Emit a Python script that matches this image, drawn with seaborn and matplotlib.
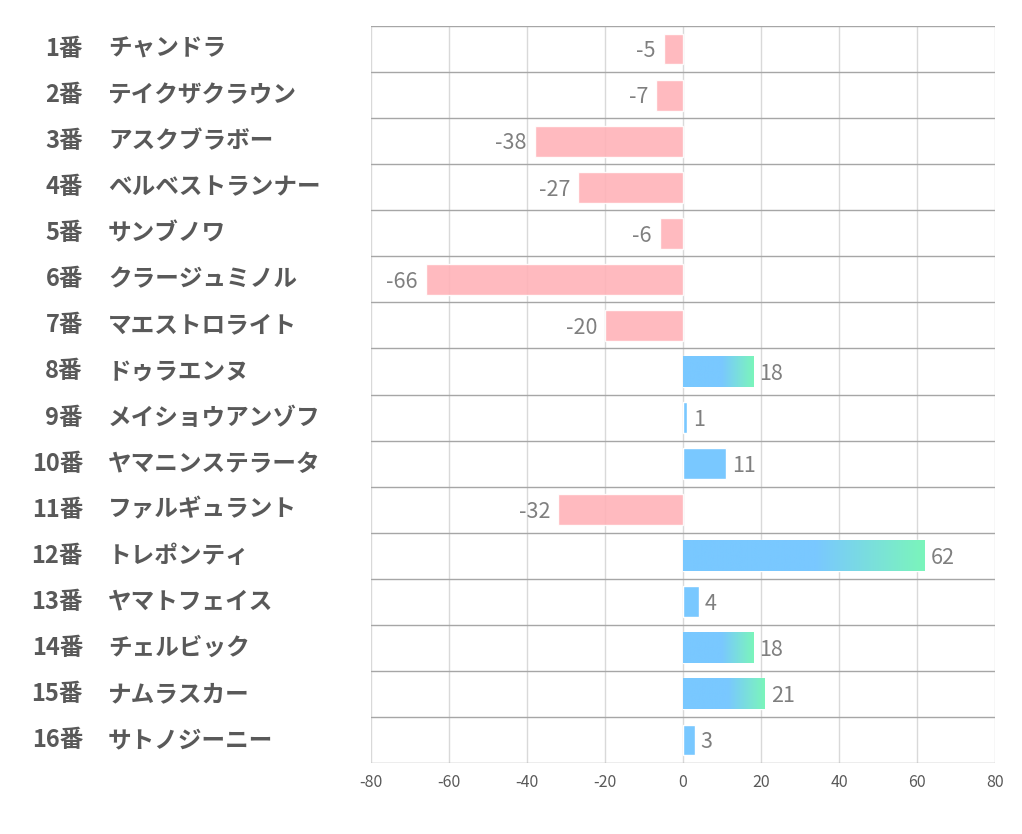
import matplotlib
matplotlib.use("Agg")
import matplotlib.pyplot as plt
import matplotlib.transforms as mtransforms
from matplotlib.colors import LinearSegmentedColormap
import numpy as np
import pandas as pd
import seaborn as sns

sns.set_theme(style="white")
plt.rcParams['font.family'] = ['Noto Sans CJK JP', 'DejaVu Sans']
plt.rcParams['axes.unicode_minus'] = False

numbers = [f"{i}番" for i in range(1, 17)]
names = ["チャンドラ", "テイクザクラウン", "アスクブラボー", "ベルベストランナー",
         "サンブノワ", "クラージュミノル", "マエストロライト", "ドゥラエンヌ",
         "メイショウアンゾフ", "ヤマニンステラータ", "ファルギュラント", "トレポンティ",
         "ヤマトフェイス", "チェルビック", "ナムラスカー", "サトノジーニー"]
values = [-5, -7, -38, -27, -6, -66, -20, 18, 1, 11, -32, 62, 4, 18, 21, 3]

df = pd.DataFrame({"horse": numbers, "value": values})
df["sign"] = np.where(df["value"] < 0, "neg", "pos")

pink = "#FFB3B8"
blue = "#79C8FF"
green = "#7BF5BB"

fig = plt.figure(figsize=(10.22, 8.34), dpi=100)
ax = fig.add_axes([371 / 1022, 71 / 834, 624 / 1022, 737 / 834])

sns.barplot(data=df, y="horse", x="value", hue="sign", orient="h",
            palette={"neg": pink, "pos": blue}, width=0.67, dodge=False,
            legend=False, ax=ax, saturation=1, zorder=2)

ax.set_xlim(-80, 80)
ax.set_ylim(15.5, -0.5)
ax.set_xticks(range(-80, 81, 20))
ax.tick_params(axis="x", labelsize=11.5, labelcolor="#595959", length=0, pad=8)
ax.set_yticks([])
ax.set_xlabel("")
ax.set_ylabel("")

for x in range(-80, 81, 20):
    ax.axvline(x, color="#D9D9D9", lw=1, zorder=1)
for b in np.arange(-0.5, 16, 1):
    ax.axhline(b, color="#A6A6A6", lw=1, zorder=1)
for s in ax.spines.values():
    s.set_visible(False)

# gradient for the longer positive bars
cmap = LinearSegmentedColormap.from_list("bg", [(0, blue), (0.55, blue), (1, green)])
grad = np.linspace(0, 1, 256).reshape(1, -1)
for p in ax.patches:
    w = p.get_width()
    if w < 0:
        p.set_alpha(0.9)
    if w >= 15:
        y0 = p.get_y()
        h = p.get_height()
        im = ax.imshow(grad, cmap=cmap, aspect="auto", zorder=3,
                       extent=(0, w, y0 + h, y0))
        im.set_clip_path(p)

# value labels
for i, v in enumerate(values):
    if v < 0:
        ax.text(v - 2.0, i + 0.05, str(v), ha="right", va="center", fontsize=15.5,
                color="#7F7F7F", zorder=4)
    else:
        ax.text(v + 1.5, i + 0.05, str(v), ha="left", va="center", fontsize=15.5,
                color="#7F7F7F", zorder=4)

# row labels on the left
trans = mtransforms.blended_transform_factory(fig.transFigure, ax.transData)
for i, (n, nm) in enumerate(zip(numbers, names)):
    ax.text(83 / 1022, i, n, transform=trans, ha="right", va="center",
            fontsize=17, fontweight="bold", color="#595959", clip_on=False)
    ax.text(108 / 1022, i, nm, transform=trans, ha="left", va="center",
            fontsize=17, fontweight="bold", color="#595959", clip_on=False)

fig.savefig("out.png", dpi=100, facecolor="white")
